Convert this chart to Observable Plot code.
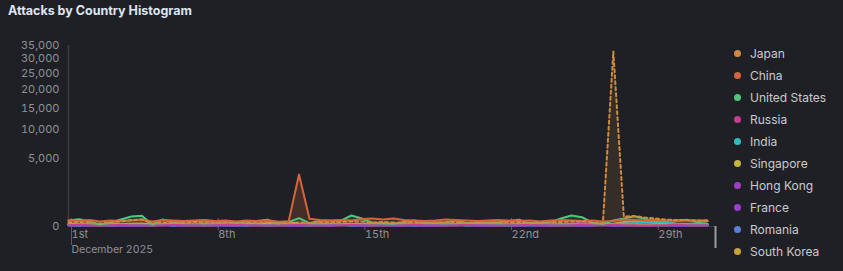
<!DOCTYPE html>
<html><head><meta charset="utf-8">
<script src="https://cdn.jsdelivr.net/npm/d3@7"></script>
<script src="https://cdn.jsdelivr.net/npm/@observablehq/plot@0.6"></script>
<style>
html,body{margin:0;padding:0;background:#1f2025;width:843px;height:271px;overflow:hidden;font-family:Inter,"Noto Sans",sans-serif;}
#title{position:absolute;left:8px;top:3px;color:#dfe5f0;font-weight:700;font-size:12.5px;}
#chart{position:absolute;left:0;top:0;}
#legend{position:absolute;left:734px;top:42px;}
.item{height:22px;display:flex;align-items:center;color:#c8cad0;font-size:12px;}
.dot{width:7px;height:7px;border-radius:50%;margin-right:9px;}
</style></head><body>
<div id="chart"></div>
<div id="title">Attacks by Country Histogram</div>
<div id="legend"></div>
<script>
// ---- data ----
const countries = ["Japan","China","United States","Russia","India","Singapore","Hong Kong","France","Romania","South Korea"];
const colors = ["#d08a3e","#d4643c","#4dc77a","#c43d8f","#2fbdbd","#c8b43a","#a03fc6","#9a3fd0","#5a7fd8","#c9a23a"];

// 12-hour bins from 1 Dec 2025 00:00 UTC (62 bins)
const binStart = "2025-12-01T00:00:00Z";
const binHours = 12;
const nowMarker = "2025-12-31T21:00:00Z";

const japan = [17,22,13,10,17,27,45,52,10,17,13,17,22,17,13,17,13,17,13,17,10,13,17,13,17,17,22,27,27,17,22,17,13,17,13,17,17,22,13,17,13,17,17,22,13,17,17,22,27,27,17,10,32700,107,118,86,68,52,45,45,38,38];
const china = [38,32,45,27,38,32,38,52,27,45,38,32,38,45,32,38,27,38,32,38,27,22,2885,63,45,38,45,38,60,68,52,68,45,38,32,38,52,45,38,32,38,45,38,32,38,27,38,45,38,32,38,27,32,52,45,38,45,38,32,38,38,38];
const unitedStates = [38,57,27,4,17,52,107,122,4,52,20,30,32,38,27,30,17,27,32,48,12,20,74,12,35,35,38,129,68,15,13,8,22,38,15,17,20,38,13,17,20,20,32,48,12,17,20,68,129,92,15,8,38,68,113,63,30,32,38,48,20,30];
const russia = [2,3,2,1,2,3,2,2,1,2,3,2,2,1,2,3,4,2,2,1,2,2,3,2,1,2,2,3,2,2,1,2,2,3,2,2,1,2,3,2,2,1,2,2,3,2,2,1,2,3,2,2,3,2,2,1,2,2,3,2,2,2];
const india = [3,2,4,3,2,3,4,3,2,3,2,4,3,2,3,4,3,2,3,2,3,4,3,2,3,4,3,2,3,2,3,4,3,2,3,3,4,3,2,3,4,3,2,3,4,3,2,3,4,3,5,4,6,9,12,20,22,17,8,6,5,4];
const singapore = [6,4,3,5,4,6,5,4,3,4,5,4,3,6,4,3,4,5,8,12,22,27,6,4,5,4,3,5,4,3,4,5,4,3,5,4,3,4,5,4,6,4,3,4,5,4,3,4,5,4,3,4,5,4,3,4,5,4,3,4,4,4];
const hongKong = [2,3,2,2,3,2,2,3,2,2,3,2,3,5,17,25,8,3,2,3,2,3,4,10,3,2,3,2,3,2,3,2,3,4,3,2,3,2,3,2,3,2,3,2,3,2,3,4,8,14,6,3,2,3,2,3,2,3,2,3,3,3];
const france = [2,1,2,2,1,2,2,1,2,2,1,2,2,1,2,2,1,2,2,1,2,2,1,2,2,1,2,2,1,2,2,1,2,2,1,2,2,1,2,2,1,2,2,1,2,2,1,2,2,1,2,2,1,2,2,1,2,2,1,2,2,2];
const romania = [1,2,1,1,2,1,1,2,1,3,1,1,2,1,1,2,1,1,2,1,1,2,1,1,2,1,3,1,2,1,1,2,1,1,2,1,1,4,1,1,2,1,1,2,1,1,2,1,1,2,1,3,1,2,1,1,2,1,1,2,1,1];
const southKorea = [5,6,4,5,6,5,8,10,4,5,6,5,4,5,6,5,4,5,6,5,4,5,6,5,4,5,6,5,6,5,4,5,6,5,4,5,6,5,4,5,6,5,4,5,6,5,4,5,6,5,4,5,8,22,30,24,18,12,8,6,5,5];

const seriesValues = [japan,china,unitedStates,russia,india,singapore,hongKong,france,romania,southKorea];

const yTicks = [0,5000,10000,15000,20000,25000,30000,35000];
const xTicks = ["2025-12-01","2025-12-08","2025-12-15","2025-12-22","2025-12-29"];
const xTickLabels = ["1st","8th","15th","22nd","29th"];
const xSubLabel = "December 2025";

// ---- build ----
const t0 = new Date(binStart);
const times = japan.map((_, i) => new Date(+t0 + i * binHours * 3600e3));
const table = countries.flatMap((c, k) => seriesValues[k].map((v, i) => ({country: c, time: times[i], value: v})));
const byC = c => table.filter(d => d.country === c);
const colorOf = c => colors[countries.indexOf(c)];
const xTickDates = xTicks.map(s => new Date(s + "T00:00:00Z"));
const axisGrey = "#3a3c43";

const minor = ["South Korea","Romania","France","Hong Kong","Singapore","India","Russia"];

const chart = Plot.plot({
  width: 843, height: 271,
  marginLeft: 68, marginRight: 128, marginTop: 45, marginBottom: 45,
  style: {background: "transparent", color: "#8f9197", fontFamily: "Inter, sans-serif", fontSize: "11px"},
  x: {type: "utc", domain: [t0, new Date(nowMarker)], label: null},
  y: {type: "sqrt", domain: [0, 35000], label: null},
  marks: [
    Plot.ruleY([0], {stroke: axisGrey}),
    Plot.ruleX([t0], {y1: 0, y2: 35000, stroke: axisGrey, strokeWidth: 1.5}),
    Plot.axisY({ticks: yTicks, tickSize: 0, tickPadding: 9, tickFormat: d3.format(","), fill: "#8f9197", label: null}),
    Plot.axisX({ticks: xTickDates, tickSize: 12, tickPadding: 0, stroke: "#5a5c63",
      tickFormat: d => xTickLabels[xTickDates.findIndex(t => +t === +d)],
      textAnchor: "start", dx: 3, dy: -8, fill: "#8f9197", label: null}),
    Plot.axisX({ticks: [t0], tickSize: 22, tickPadding: 0, stroke: "#5a5c63", fontSize: 10.5,
      tickFormat: () => xSubLabel, textAnchor: "start", dx: 3, dy: -3, fill: "#8f9197", label: null}),
    Plot.axisX({ticks: [new Date(nowMarker)], tickSize: 22, tickFormat: () => "", stroke: "#9a9ca2", strokeWidth: 2, label: null}),
    Plot.areaY(byC("United States"), {x: "time", y: "value", fill: colorOf("United States"), fillOpacity: 0.15}),
    Plot.areaY(byC("China"), {x: "time", y: "value", fill: colorOf("China"), fillOpacity: 0.2}),
    Plot.areaY(byC("Japan"), {x: "time", y: "value", fill: colorOf("Japan"), fillOpacity: 0.12}),
    ...minor.map(c => Plot.lineY(byC(c), {x: "time", y: "value", stroke: colorOf(c), strokeWidth: 2})),
    Plot.lineY(byC("United States"), {x: "time", y: "value", stroke: colorOf("United States"), strokeWidth: 2}),
    Plot.lineY(byC("China"), {x: "time", y: "value", stroke: colorOf("China"), strokeWidth: 2}),
    Plot.lineY(byC("Japan"), {x: "time", y: "value", stroke: colorOf("Japan"), strokeWidth: 2, strokeDasharray: "3,3"})
  ]
});
document.getElementById("chart").append(chart);

const legend = document.getElementById("legend");
countries.forEach((c, k) => {
  const it = document.createElement("div"); it.className = "item";
  const dot = document.createElement("span"); dot.className = "dot"; dot.style.background = colors[k];
  const lab = document.createElement("span"); lab.textContent = c;
  it.append(dot, lab); legend.append(it);
});
</script>
</body></html>
